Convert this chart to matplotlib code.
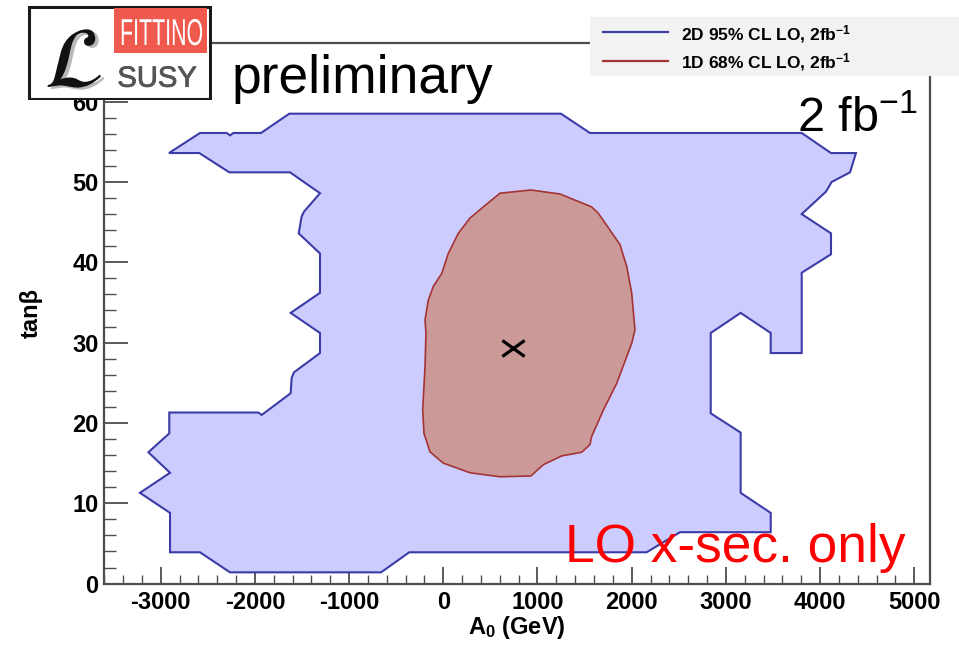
import matplotlib
matplotlib.use("Agg")
import matplotlib.pyplot as plt
import numpy as np
from matplotlib.patches import Rectangle
from matplotlib.lines import Line2D
from matplotlib.path import Path
from matplotlib import patheffects
from matplotlib.transforms import Affine2D

plt.rcParams["font.family"] = ["Liberation Sans", "DejaVu Sans"]
plt.rcParams["mathtext.fontset"] = "custom"
plt.rcParams["mathtext.rm"] = "Liberation Sans"
plt.rcParams["mathtext.bf"] = "Liberation Sans:bold"
plt.rcParams["mathtext.it"] = "Liberation Sans:italic"
plt.rcParams["axes.unicode_minus"] = False

# 2D 95% CL region in the (A0, tan beta) plane
cl95_a0 = [-1635, 1249, 1557, 3805, 4116, 4381, 4318, 4123, 4063, 3805,
           4116, 4116, 3805, 3805, 3476, 3476, 3157, 2839, 2839, 3157,
           3157, 3476, 3476, 2513, 2159, -361, -661, -2264, -2583, -2901,
           -2901, -3220, -2901, -3131, -2909, -2909, -1964, -1928, -1893, -1620,
           -1610, -1585, -1309, -1309, -1620, -1309, -1309, -1535, -1504, -1479,
           -1309, -1627, -2272, -2590, -2912, -2583, -2300, -2264, -2229, -1935]
cl95_tanb = [58.5, 58.5, 56.1, 56.1, 53.6, 53.6, 51.2, 50.0, 48.8, 46.0,
             43.6, 41.0, 38.7, 28.7, 28.7, 31.2, 33.7, 31.2, 21.2, 18.8,
             11.3, 8.8, 6.4, 6.4, 3.9, 3.9, 1.4, 1.4, 3.9, 3.9,
             8.8, 11.3, 13.8, 16.35, 18.7, 21.3, 21.3, 21.0, 21.3, 23.7,
             25.6, 26.3, 28.7, 31.2, 33.7, 36.2, 41.1, 43.6, 45.7, 46.3,
             48.6, 51.2, 51.2, 53.6, 53.6, 56.1, 56.1, 55.8, 56.1, 56.1]

# 1D 68% CL region
cl68_a0 = [602, 930, 1239, 1575, 1646, 1876, 1947, 2000, 2035, 2000,
           1840, 1699, 1575, 1557, 1469, 1257, 1062, 930, 602, 283,
           0, -141, -205, -219, -194, -184, -194, -159, -106, -17,
           53, 159, 283, 425]
cl68_tanb = [48.6, 49.0, 48.5, 46.9, 46.1, 42.2, 39.5, 36.2, 31.6, 29.9,
             24.9, 21.6, 18.3, 17.3, 16.35, 15.9, 14.8, 13.4, 13.3, 13.8,
             15.0, 16.4, 18.7, 21.6, 27.0, 31.2, 32.8, 35.3, 37.0, 38.6,
             41.1, 43.6, 45.5, 46.9]

# best fit point
best_a0 = 743
best_tanb = 29.3

legend_labels = [r"2D 95% CL LO, 2fb$^{\mathbf{-1}}$",
                 r"1D 68% CL LO, 2fb$^{\mathbf{-1}}$"]
x_ticks = [-3000, -2000, -1000, 0, 1000, 2000, 3000, 4000, 5000]
y_ticks = [0, 10, 20, 30, 40, 50, 60]

BLUE_FILL, BLUE_EDGE = "#ccccff", "#3c3ca8"
RED_FILL, RED_EDGE = "#cc9999", "#a53434"
FRAME = "#4d4d4d"

W, H = 959, 651
fig = plt.figure(figsize=(W / 100, H / 100), dpi=100)
fig.patch.set_facecolor("white")


def fx(x):
    return x / W


def fy(y):
    return 1 - y / H


ax = fig.add_axes([fx(104), fy(583.6), (930 - 104) / W, (583.6 - 43) / H])
ax.set_xlim(-3602, 5167)
ax.set_ylim(0, 67.3)

ax.fill(cl95_a0, cl95_tanb, facecolor=BLUE_FILL, edgecolor=BLUE_EDGE,
        linewidth=1.5, zorder=2)
ax.fill(cl68_a0, cl68_tanb, facecolor=RED_FILL, edgecolor=RED_EDGE,
        linewidth=1.2, zorder=3)

cross = Path([(-1, -0.72), (1, 0.72), (-1, 0.72), (1, -0.72)],
             [Path.MOVETO, Path.LINETO, Path.MOVETO, Path.LINETO])
ax.plot([best_a0], [best_tanb], linestyle="none", marker=cross,
        markersize=16, markeredgewidth=2.3, color="black", zorder=4)

# frame and ticks
for sp in ax.spines.values():
    sp.set_color(FRAME)
    sp.set_linewidth(1.6)
ax.set_xticks(x_ticks)
ax.set_xticks(np.arange(-3600, 5200, 200), minor=True)
ax.set_yticks(y_ticks)
ax.set_yticks(np.arange(0, 68, 2), minor=True)
ax.tick_params(which="both", direction="in", color=FRAME, top=False,
               right=False, labelsize=17)
ax.tick_params(axis="x", which="major", length=12.2, width=1.3, pad=5.5)
ax.tick_params(axis="x", which="minor", length=6.2, width=1.0)
ax.tick_params(axis="y", which="major", length=17.3, width=1.3, pad=4)
ax.tick_params(axis="y", which="minor", length=8.6, width=1.0)
for lbl in ax.get_xticklabels() + ax.get_yticklabels():
    lbl.set_fontweight("bold")

ax.set_xlabel(r"A$_{\mathbf{0}}$ (GeV)", fontsize=17, fontweight="bold")
ax.xaxis.set_label_coords(0.5, (583.6 - 614) / 540.6)
ax.set_ylabel("tanβ", fontsize=17, fontweight="bold")
ax.yaxis.set_label_coords((43 - 104) / 826, 0.5)

# legend box
fig.add_artist(Rectangle((fx(590), fy(76)), (W - 590) / W + 0.01, (76 - 16.7) / H,
                         transform=fig.transFigure, facecolor="#f2f2f2",
                         edgecolor="none", zorder=5))
for ypx, base, col, lab in [(32.3, 40.0, BLUE_EDGE, legend_labels[0]),
                            (61.0, 68.3, RED_EDGE, legend_labels[1])]:
    fig.add_artist(Line2D([fx(603), fx(668)], [fy(ypx), fy(ypx)],
                          transform=fig.transFigure, color=col, linewidth=1.6,
                          zorder=6))
    fig.text(fx(681), fy(base), lab, fontsize=12.5, fontweight="bold",
             ha="left", va="baseline", zorder=6)

# annotations
fig.text(fx(232), fy(93.3), "preliminary", fontsize=38.4, ha="left",
         va="baseline", color="black", zorder=7)
fig.text(fx(918), fy(131.7), r"2 fb$^{-1}$", fontsize=35, ha="right",
         va="baseline", color="black", zorder=7)
fig.text(fx(565), fy(561.7), "LO x-sec. only", fontsize=38.3, color="red",
         ha="left", va="baseline", zorder=7)


class Stretch(patheffects.AbstractPathEffect):
    """Scale glyph outlines about the text origin."""

    def __init__(self, sx=1.0, sy=1.0):
        super().__init__()
        self._sx, self._sy = sx, sy

    def draw_path(self, renderer, gc, tpath, affine, rgbFace=None):
        renderer.draw_path(gc, tpath, Affine2D().scale(self._sx, self._sy) + affine,
                           rgbFace)


# Fittino logo
lax = fig.add_axes([fx(27), fy(100), 185 / W, 95 / H], zorder=10)
lax.set_xlim(0, 185)
lax.set_ylim(95, 0)
lax.axis("off")
lax.add_patch(Rectangle((1.5, 1.5), 182, 92, facecolor="white",
                        edgecolor="#1a1a1a", linewidth=2.2))
lax.add_patch(Rectangle((87.3, 3.3), 92.4, 45, facecolor="#f05a4e",
                        edgecolor="none"))
lax.text(134.7, 40, "FITTINO", color="white", fontsize=15.4, ha="center",
         va="baseline", path_effects=[Stretch(1.0, 1.75)])
lax.text(130, 81.7, "SUSY", color="#555555", fontsize=21, ha="center",
         va="baseline", path_effects=[patheffects.withStroke(linewidth=0.6,
                                                             foreground="#555555")])
lax.text(47, 82, r"$\mathcal{L}$", math_fontfamily="stix", fontsize=62,
         color="#111111", ha="center", va="baseline",
         path_effects=[patheffects.withSimplePatchShadow(offset=(2.5, -1.5),
                                                         shadow_rgbFace="#9a9a9a",
                                                         alpha=0.7)])

fig.savefig("out.png", dpi=100)
